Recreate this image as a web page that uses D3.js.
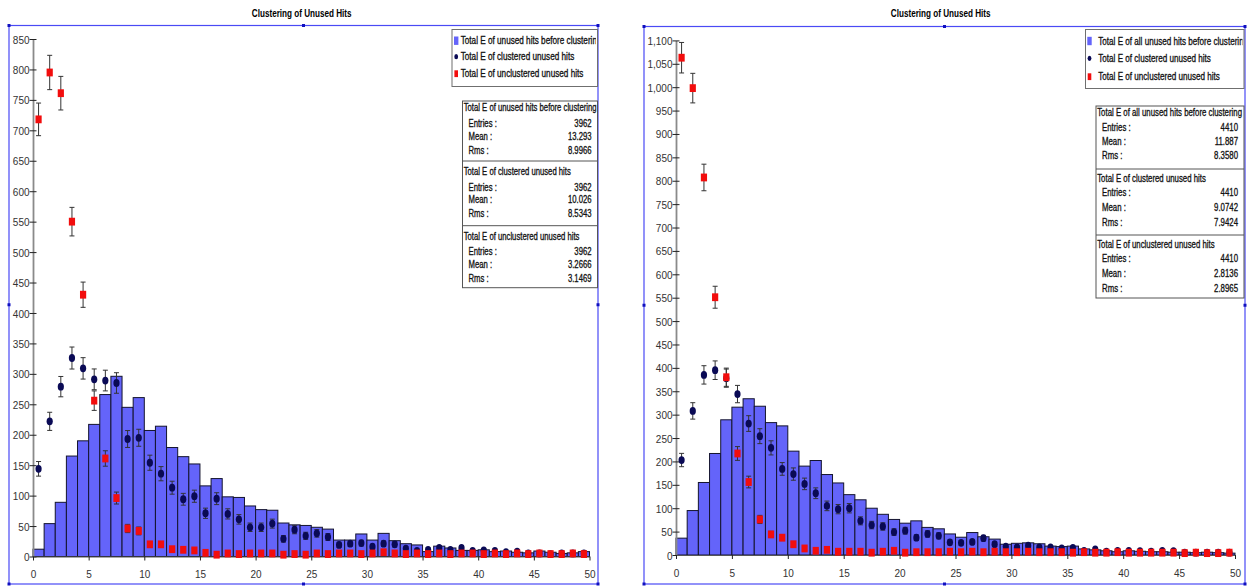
<!DOCTYPE html>
<html><head><meta charset="utf-8">
<script src="https://cdn.jsdelivr.net/npm/d3@7"></script>
<style>html,body{margin:0;padding:0;background:#fff;overflow:hidden}</style>
</head><body>
<svg id="c" width="1247" height="586"></svg>
<script>
// ---------------- DATA ----------------
const binStarts = [0,1,2,3,4,5,6,7,8,9,10,11,12,13,14,15,16,17,18,19,20,21,22,23,24,25,26,27,28,29,30,31,32,33,34,35,36,37,38,39,40,41,42,43,44,45,46,47,48,49];
const xTickValues = [0,5,10,15,20,25,30,35,40,45,50];
const leftYTicks = [0,50,100,150,200,250,300,350,400,450,500,550,600,650,700,750,800,850];
const rightYTicks = [0,50,100,150,200,250,300,350,400,450,500,550,600,650,700,750,800,850,900,950,1000,1050,1100];
const chartTitle = "Clustering of Unused Hits";

const leftTotal = [12,54,89,165,190,217,266,296,245,261,207,214,179,164,152,116,128,98,97,83,77,76,55,52,51,48,45,27,27,37,27,38,26,21,19,8,17,14,10,10,11,8,9,7,6,9,7,5,6,8];
const leftClustered = [144,222,279,326,309,291,289,285,193,195,154,136,113,94,99,71,95,70,61,48,48,54,29,44,34,38,32,19,21,22,16,21,20,13,9,11,14,11,14,9,10,9,7,8,5,5,4,5,5,5];
const leftUnclustered = [718,795,761,550,430,256,161,96,46,42,20,20,12,11,10,6,3,5,4,5,5,5,3,4,3,5,4,5,5,4,5,7,5,4,5,4,5,4,5,5,4,5,4,5,4,5,4,4,5,4];

const rightTotal = [36,95,155,217,289,316,334,318,283,276,222,190,202,172,154,129,118,100,87,76,68,73,59,56,45,38,48,39,34,23,25,26,24,19,18,19,13,11,9,7,9,8,7,7,6,6,5,6,5,4];
const rightClustered = [203,308,385,395,378,344,281,254,229,184,173,152,132,105,98,100,73,64,61,49,52,37,45,41,27,26,28,36,23,18,16,20,16,16,14,15,9,12,7,9,9,8,7,9,8,5,5,5,5,5];
const rightUnclustered = [1063,998,807,551,380,217,156,76,44,37,23,14,9,11,7,7,7,5,7,9,5,6,6,6,7,6,7,6,7,6,6,7,6,6,6,5,6,5,5,6,5,5,5,5,5,4,5,4,4,5];

const leftLegend = ["Total E of unused hits before clustering","Total E of clustered unused hits","Total E of unclustered unused hits"];
const rightLegend = ["Total E of all unused hits before clustering","Total E of clustered unused hits","Total E of unclustered unused hits"];

const statRowLabels = ["Entries :","Mean :","Rms :"];
const leftStatTitles = ["Total E of unused hits before clustering","Total E of clustered unused hits","Total E of unclustered unused hits"];
const leftEntries = ["3962","3962","3962"];
const leftMeans = ["13.293","10.026","3.2666"];
const leftRms = ["8.9966","8.5343","3.1469"];
const rightStatTitles = ["Total E of all unused hits before clustering","Total E of clustered unused hits","Total E of unclustered unused hits"];
const rightEntries = ["4410","4410","4410"];
const rightMeans = ["11.887","9.0742","2.8136"];
const rightRms = ["8.3580","7.9424","2.8965"];

// ---------------- STYLE / LAYOUT ----------------
const FONT = "'Liberation Sans', Arial, Helvetica, sans-serif";
const BAR_FILL = "#6464fa", BAR_STROKE = "#14142e";
const DOT = "#0a0a55", SQ = "#f20d0d", ERR = "#333";
const FRAME = "#4a4af5";

const svg = d3.select("#c");

function measure(str, size, weight) {
  const t = svg.append("text").attr("font-family", FONT).attr("font-size", size)
    .attr("font-weight", weight || "normal").text(str);
  const w = t.node().getComputedTextLength();
  t.remove();
  return w;
}
function ctext(parent, x, y, str, o) {
  const t = parent.append("text")
    .attr("transform", `translate(${x},${y}) scale(${o.sx},1)`)
    .attr("font-family", FONT).attr("font-size", o.size)
    .attr("font-weight", o.weight || "normal")
    .attr("text-anchor", o.anchor || "start")
    .attr("fill", o.fill || "#111").text(str);
  if (o.heavy) t.attr("stroke", o.fill || "#111").attr("stroke-width", o.heavy);
  return t;
}

const tickSx = 16.7 / measure("850", 11.5);
const titleSx = 100 / measure(chartTitle, 11, "bold");

function drawPanel(cfg, d) {
  const g = svg.append("g");
  const x = d3.scaleLinear().domain([0, 50]).range(cfg.xr);
  const y = d3.scaleLinear().domain([0, cfg.yTopVal]).range([cfg.y0, cfg.yTopPx]);
  const [fx0, fy0, fx1, fy1] = cfg.frame;

  // title
  ctext(g, cfg.titleX, 17.3, chartTitle, {sx: titleSx, size: 11, weight: "bold", anchor: "middle", fill: "#000"});

  // frame
  g.append("rect").attr("x", fx0).attr("y", fy0).attr("width", fx1 - fx0).attr("height", fy1 - fy0)
    .attr("fill", "none").attr("stroke", FRAME).attr("stroke-width", 1.2);
  const mx = (fx0 + fx1) / 2, my = (fy0 + fy1) / 2;
  [[fx0,fy0],[mx,fy0],[fx1,fy0],[fx0,my],[fx1,my],[fx0,fy1],[mx,fy1],[fx1,fy1]].forEach(p => {
    g.append("rect").attr("x", p[0] - 1.5).attr("y", p[1] - 1.5).attr("width", 3).attr("height", 3).attr("fill", "#1010c0");
  });

  // bars
  g.append("g").selectAll("rect").data(binStarts).join("rect")
    .attr("x", b => x(b)).attr("width", b => x(b + 1) - x(b))
    .attr("y", (b, i) => y(d.total[i])).attr("height", (b, i) => y(0) - y(d.total[i]))
    .attr("fill", BAR_FILL).attr("stroke", BAR_STROKE).attr("stroke-width", 1);

  // axes
  const ya = g.append("g").attr("transform", `translate(${cfg.xr[0]},0)`)
    .call(d3.axisLeft(y).tickValues(cfg.yTicks).tickSize(0).tickFormat(cfg.fmt));
  ya.select(".domain").attr("stroke", "#8a8a8a").attr("stroke-width", 1.8);
  ya.selectAll(".tick line").attr("x1", -3.5).attr("x2", 3.5).attr("stroke", "#222").attr("stroke-width", 1);
  ya.selectAll(".tick text").attr("x", 0).attr("dy", "0.35em")
    .attr("transform", `translate(-3.5,0) scale(${tickSx},1)`)
    .attr("font-family", FONT).attr("font-size", 11.5).attr("fill", "#333");

  const xa = g.append("g").attr("transform", `translate(0,${cfg.y0})`)
    .call(d3.axisBottom(x).tickValues(xTickValues).tickSize(4).tickSizeOuter(0).tickFormat(d3.format("d")));
  xa.select(".domain").attr("stroke", "#555").attr("stroke-width", 1.2);
  xa.selectAll(".tick line").attr("stroke", "#222");
  xa.selectAll(".tick text").attr("y", 0).attr("dy", 0)
    .attr("transform", `translate(0,21.5) scale(${tickSx},1)`)
    .attr("font-family", FONT).attr("font-size", 11.5).attr("fill", "#333");

  // error bars helper
  function errBars(vals) {
    const eg = g.append("g").attr("stroke", ERR).attr("stroke-width", 1);
    binStarts.forEach((b, i) => {
      const v = vals[i], e = Math.sqrt(v), cx = x(b + 0.5);
      const yt = y(v + e), yb = y(Math.max(0, v - e));
      eg.append("line").attr("x1", cx).attr("x2", cx).attr("y1", yt).attr("y2", yb);
      eg.append("line").attr("x1", cx - 2.5).attr("x2", cx + 2.5).attr("y1", yt).attr("y2", yt);
      eg.append("line").attr("x1", cx - 2.5).attr("x2", cx + 2.5).attr("y1", yb).attr("y2", yb);
    });
  }
  errBars(d.clustered);
  g.append("g").selectAll("ellipse").data(binStarts).join("ellipse")
    .attr("cx", b => x(b + 0.5)).attr("cy", (b, i) => y(d.clustered[i]))
    .attr("rx", 3.1).attr("ry", 3.9).attr("fill", DOT);
  errBars(d.unclustered);
  g.append("g").selectAll("rect").data(binStarts).join("rect")
    .attr("x", b => x(b + 0.5) - 3.1).attr("y", (b, i) => y(d.unclustered[i]) - 3.9)
    .attr("width", 6.2).attr("height", 7.8).attr("fill", SQ);

  // legend
  const L = cfg.legend;
  const clipId = "clip" + cfg.id;
  svg.append("clipPath").attr("id", clipId).append("rect")
    .attr("x", L.x).attr("y", L.y).attr("width", L.w - 1.5).attr("height", L.h);
  const lg = g.append("g");
  lg.append("rect").attr("x", L.x).attr("y", L.y).attr("width", L.w).attr("height", L.h)
    .attr("fill", "#fff").attr("stroke", "#6f6f6f").attr("stroke-width", 1);
  const legSx = cfg.legendW / measure(d.legend[0], 10);
  const lt = lg.append("g").attr("clip-path", `url(#${clipId})`);
  d.legend.forEach((s, i) => {
    const cy = L.rows[i];
    if (i === 0) lt.append("rect").attr("x", L.sw).attr("y", cy - 4.2).attr("width", 4.4).attr("height", 8.4).attr("fill", BAR_FILL);
    if (i === 1) lt.append("ellipse").attr("cx", L.sw + 2.2).attr("cy", cy).attr("rx", 1.9).attr("ry", 2.6).attr("fill", DOT);
    if (i === 2) lt.append("rect").attr("x", L.sw + 0.4).attr("y", cy - 3.4).attr("width", 3.6).attr("height", 6.8).attr("fill", SQ);
    ctext(lt, L.tx, cy + 3.6, s, {sx: legSx, size: 10, heavy: 0.3});
  });

  // stats box
  const S = cfg.stats;
  const lsx = cfg.textW / measure(cfg.statTitles[0], 10);
  const sg = g.append("g");
  sg.append("rect").attr("x", S.x).attr("y", S.tops[0]).attr("width", S.w).attr("height", S.bottom - S.tops[0])
    .attr("fill", "#fff").attr("stroke", "#555").attr("stroke-width", 1);
  [1, 2].forEach(k => sg.append("line").attr("x1", S.x).attr("x2", S.x + S.w)
    .attr("y1", S.tops[k]).attr("y2", S.tops[k]).attr("stroke", "#555").attr("stroke-width", 1));
  const vals = [cfg.entries, cfg.means, cfg.rms];
  cfg.statTitles.forEach((t, k) => {
    const off = k === 0 ? S.off0 : S.off;
    const top = S.tops[k];
    ctext(sg, S.x + 1.2, top + off[0] + 3.6, t, {sx: lsx, size: 10, heavy: 0.3});
    statRowLabels.forEach((lab, r) => {
      ctext(sg, S.x + 6, top + off[r + 1] + 3.6, lab, {sx: lsx, size: 10, heavy: 0.3});
      ctext(sg, S.x + S.w - 6, top + off[r + 1] + 3.6, vals[r][k], {sx: lsx, size: 10, anchor: "end", heavy: 0.3});
    });
  });
}

drawPanel({
  id: "L", frame: [9, 25.5, 598, 584], xr: [33, 589.5], y0: 556.5, yTopVal: 850, yTopPx: 39,
  yTicks: leftYTicks, fmt: d3.format("d"), titleX: 301.7,
  legend: {x: 452, y: 29.5, w: 145.5, h: 57, rows: [40.7, 56.7, 73.7], sw: 454, tx: 460.7},
  stats: {x: 462.5, w: 135, tops: [101, 161, 225.7], bottom: 287.7, off0: [6, 22, 35.5, 49.5], off: [10.5, 26, 38.5, 52.5]},
  textW: 133, legendW: 141, statTitles: leftStatTitles, entries: leftEntries, means: leftMeans, rms: leftRms
}, {total: leftTotal, clustered: leftClustered, unclustered: leftUnclustered, legend: leftLegend});

drawPanel({
  id: "R", frame: [644, 26.5, 1245, 584], xr: [676, 1235], y0: 555, yTopVal: 1100, yTopPx: 40.4,
  yTicks: rightYTicks, fmt: d3.format(","), titleX: 940.7,
  legend: {x: 1085.5, y: 29.5, w: 158.5, h: 59, rows: [41, 58.3, 76.7], sw: 1087.3, tx: 1098.3},
  stats: {x: 1096, w: 148, tops: [106, 169, 235], bottom: 298, off0: [6.3, 21, 35.3, 49.8], off: [9.2, 23.8, 38.5, 53]},
  textW: 145, legendW: 150, statTitles: rightStatTitles, entries: rightEntries, means: rightMeans, rms: rightRms
}, {total: rightTotal, clustered: rightClustered, unclustered: rightUnclustered, legend: rightLegend});
</script>
</body></html>
